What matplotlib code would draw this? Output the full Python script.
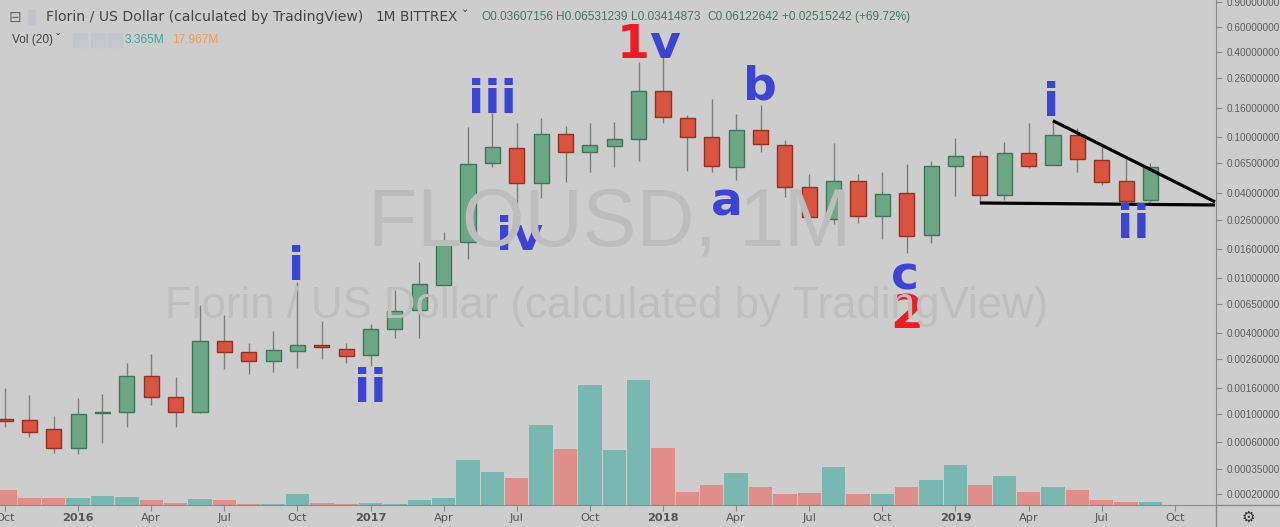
import numpy as np
import pandas as pd
import matplotlib
matplotlib.use("Agg")
import matplotlib.pyplot as plt
from matplotlib.lines import Line2D
from matplotlib.patches import Rectangle

# monthly FLO/USD candles, Oct 2015 .. Sep 2019
months = pd.date_range("2015-10-01", periods=48, freq="MS")
open_ = [0.000912, 0.000898, 0.000762, 0.00054, 0.00102, 0.00104, 0.00196, 0.001358,
         0.00105, 0.00351, 0.00292, 0.0025, 0.002965, 0.0033, 0.003098, 0.002773,
         0.00431, 0.0059, 0.008912, 0.01813, 0.06574, 0.0831, 0.0470, 0.1049,
         0.0787, 0.0867, 0.0963, 0.2122, 0.1368, 0.1004, 0.061, 0.112,
         0.0881, 0.0445, 0.0261, 0.049, 0.0277, 0.0399, 0.0202, 0.0620,
         0.073, 0.0387, 0.0774, 0.0636, 0.1037, 0.0687, 0.0485, 0.03607156]
high = [0.00159, 0.001407, 0.000976, 0.001328, 0.001431, 0.002447, 0.00282, 0.001919,
        0.00641, 0.005433, 0.003426, 0.004166, 0.009363, 0.004918, 0.00343, 0.004702,
        0.008208, 0.0130, 0.02134, 0.117, 0.1469, 0.1249, 0.1368, 0.1195,
        0.1261, 0.1279, 0.3402, 0.3793, 0.143, 0.1845, 0.1453, 0.1682,
        0.0951, 0.0547, 0.0911, 0.0547, 0.0562, 0.0644, 0.0676, 0.0978,
        0.0799, 0.0925, 0.1261, 0.1302, 0.1151, 0.0853, 0.0695, 0.06531239]
low = [0.000795, 0.000665, 0.000484, 0.000477, 0.000587, 0.0008, 0.001181, 0.0008,
       0.001019, 0.002188, 0.00201, 0.00208, 0.002225, 0.002605, 0.00245, 0.002326,
       0.003688, 0.00369, 0.007352, 0.01359, 0.06162, 0.02726, 0.0368, 0.0482,
       0.0568, 0.061, 0.0676, 0.1261, 0.0574, 0.0568, 0.0496, 0.0787,
       0.0378, 0.0247, 0.0242, 0.0245, 0.0189, 0.0151, 0.0178, 0.0384,
       0.0343, 0.0358, 0.0600, 0.0633, 0.0568, 0.0457, 0.0335, 0.03414873]
close = [0.00088, 0.000729, 0.00054, 0.001006, 0.00104, 0.001962, 0.001351, 0.001048,
         0.003507, 0.002916, 0.002518, 0.003015, 0.003297, 0.003188, 0.002741, 0.004306,
         0.005835, 0.009061, 0.01813, 0.06467, 0.08448, 0.04746, 0.1049, 0.0783,
         0.0881, 0.0964, 0.2122, 0.1383, 0.0999, 0.0626, 0.112, 0.0891,
         0.0445, 0.0273, 0.0490, 0.0277, 0.0395, 0.0200, 0.0623, 0.0730,
         0.0388, 0.0774, 0.0626, 0.1037, 0.0695, 0.0482, 0.0354, 0.06122642]
# volume, millions
volume = [16.7, 7.4, 7.4, 7.4, 9.7, 8.6, 5.6, 2.6, 6.7, 5.6, 1.4, 1.4,
          11.9, 2.6, 1.4, 2.2, 1.4, 5.6, 7.8, 49.7, 36.7, 29.7, 88.6, 62.2,
          133.3, 60.8, 139.2, 63.3, 14.4, 22.6, 35.6, 19.7, 12.6, 13.7, 41.9, 12.6,
          12.6, 19.7, 27.4, 44.4, 22.2, 32.6, 14.4, 19.7, 16.7, 5.6, 3.4, 3.365]

price_ticks = [0.0002, 0.00035, 0.0006, 0.001, 0.0016, 0.0026, 0.004, 0.0065, 0.01,
               0.016, 0.026, 0.04, 0.065, 0.1, 0.16, 0.26, 0.4, 0.6, 0.9]

# triangle trend lines (month index, price)
upper_x, upper_y = [43, 49.65], [0.1302, 0.0347]
lower_x, lower_y = [40, 49.65], [0.0341, 0.0330]

# wave labels: text, month index, baseline (axes fraction), colour, ha
waves = [("i", 11.94, 0.4455, "blue", "center"),
         ("ii", 14.98, 0.204, "blue", "center"),
         ("iii", 20.0, 0.776, "blue", "center"),
         ("iv", 21.1, 0.505, "blue", "center"),
         ("1", 26.43, 0.885, "red", "right"),
         ("v", 26.43, 0.885, "blue", "left"),
         ("b", 30.98, 0.802, "blue", "center"),
         ("a", 29.63, 0.574, "blue", "center"),
         ("c", 36.93, 0.426, "blue", "center"),
         ("2", 37.0, 0.350, "red", "center"),
         ("i", 42.92, 0.770, "blue", "center"),
         ("ii", 46.29, 0.529, "blue", "center")]

BG = "#cdcdcd"
UP, UP_EDGE = "#6ca886", "#3f7558"
DN, DN_EDGE = "#d9543f", "#93301f"
VOL_UP, VOL_DN = "#79b8b1", "#e08e8b"
BLUE, RED = "#3c44d6", "#ed1c24"
SANS = "Liberation Sans"

fig = plt.figure(figsize=(12.8, 5.27), dpi=100, facecolor=BG)
pos = [0, 22 / 527, 1216 / 1280, 505 / 527]
axv = fig.add_axes(pos, facecolor=BG)
ax = fig.add_axes(pos, sharex=axv)
ax.patch.set_visible(False)

x = np.arange(len(months))
o, h, l, c = map(np.array, (open_, high, low, close))
up = c >= o

# volume
axv.bar(x, volume, width=0.96, color=np.where(up, VOL_UP, VOL_DN), zorder=1)
axv.set_ylim(0, 561)
axv.axis("off")

# price scale (tradingview style log)
ax.set_yscale("function", functions=(lambda v: np.log10(np.clip(v + 1e-4, 1e-9, None)),
                                    lambda v: 10 ** v - 1e-4))
ax.vlines(x, l, h, color="#7d7d7d", lw=1, zorder=2)
ax.bar(x, np.abs(c - o), bottom=np.minimum(o, c), width=0.62,
       color=np.where(up, UP, DN), edgecolor=np.where(up, UP_EDGE, DN_EDGE),
       linewidth=1, zorder=3)
ax.set_ylim(1.518e-4, 0.928)
ax.set_xlim(-0.205, 49.69)

ax.plot(upper_x, upper_y, color="black", lw=2.3, zorder=4, solid_capstyle="butt")
ax.plot(lower_x, lower_y, color="black", lw=2.3, zorder=4, solid_capstyle="butt")

for txt, xi, yb, col, ha in waves:
    ax.text(xi, yb, txt, transform=ax.get_xaxis_transform(), ha=ha, va="baseline",
            fontsize=34, fontweight="bold", color=BLUE if col == "blue" else RED, zorder=5)

# axes styling
for s in ("left", "top"):
    ax.spines[s].set_visible(False)
ax.spines["right"].set_color("#8a8a8a")
ax.spines["bottom"].set_color("#8a8a8a")
ax.yaxis.tick_right()
ax.set_yticks(price_ticks)
ax.set_yticklabels(["%.8f" % t for t in price_ticks], family=SANS)
ax.yaxis.set_minor_locator(matplotlib.ticker.NullLocator())
ax.tick_params(axis="y", colors="#8a8a8a", labelcolor="#5c5c5c", labelsize=7.2,
               length=4, pad=4)
ticks = list(range(0, 49, 3))
labels = []
for t in ticks:
    d = pd.Timestamp("2015-10-01") + pd.DateOffset(months=t)
    labels.append(str(d.year) if d.month == 1 else d.strftime("%b"))
ax.set_xticks(ticks)
ax.set_xticklabels(labels)
ax.tick_params(axis="x", colors="#8a8a8a", labelcolor="#555555", labelsize=8.2,
               length=4, pad=2)
for lab in ax.get_xticklabels():
    if lab.get_text().isdigit():
        lab.set_fontweight("bold")

# watermark
fig.text(610 / 1280, 1 - 246 / 527, "FLOUSD, 1M", ha="center", va="baseline",
         fontsize=58, color="#bdbdbd", zorder=0, family=SANS)
fig.text(607 / 1280, 1 - 318 / 527, "Florin / US Dollar (calculated by TradingView)",
         ha="center", va="baseline", fontsize=31.5, color="#bfbfbf", zorder=0,
         family=SANS)

# corner box lines + gear
fig.add_artist(Line2D([1216 / 1280, 1216 / 1280], [0, 22 / 527], color="#8a8a8a", lw=1))
fig.add_artist(Line2D([1216 / 1280, 1], [22 / 527, 22 / 527], color="#8a8a8a", lw=1))
fig.text(1248 / 1280, 1 - 517 / 527, "\u2699", ha="center", va="center", fontsize=11,
         color="#333333")

# header
hy = 1 - 17 / 527
fig.text(9 / 1280, hy, "\u229f", ha="left", va="center", fontsize=11, color="#666666")
fig.add_artist(Rectangle((28 / 1280, 1 - 24 / 527), 7 / 1280, 14 / 527,
                         transform=fig.transFigure, color="#c2c4cc"))
fig.text(46 / 1280, hy, "Florin / US Dollar (calculated by TradingView)", ha="left",
         va="center", fontsize=10.1, color="#444444")
fig.text(376 / 1280, hy, "1M", ha="left", va="center", fontsize=9.8, color="#444444")
fig.text(400 / 1280, hy, "BITTREX \u02c7", ha="left", va="center", fontsize=9.8,
         color="#444444")
ohlc = [("O", "0.03607156", 481), ("H", "0.06531239", 556), ("L", "0.03414873", 631),
        ("C", "0.06122642", 707)]
for k, v, px in ohlc:
    fig.text(px / 1280, hy, k + v, ha="left", va="center", fontsize=8.6,
             color="#3f7a5c", family=SANS)
fig.text(782 / 1280, hy, "+0.02515242 (+69.72%)", ha="left", va="center", fontsize=8.6,
         color="#3f7a5c", family=SANS)

vy = 1 - 40 / 527
fig.text(12 / 1280, vy, "Vol (20) \u02c7", ha="left", va="center", fontsize=8.6,
         color="#444444", family=SANS)
for px in (73, 91, 108):
    fig.add_artist(Rectangle((px / 1280, 1 - 47 / 527), 14 / 1280, 14 / 527,
                             transform=fig.transFigure, color="#c4c6ce"))
fig.text(125 / 1280, vy, "3.365M", ha="left", va="center", fontsize=8.6,
         color="#3aa69a", family=SANS)
fig.text(172 / 1280, vy, "17.967M", ha="left", va="center", fontsize=8.6,
         color="#f59a52", family=SANS)

fig.savefig("out.png", dpi=100, facecolor=BG)
